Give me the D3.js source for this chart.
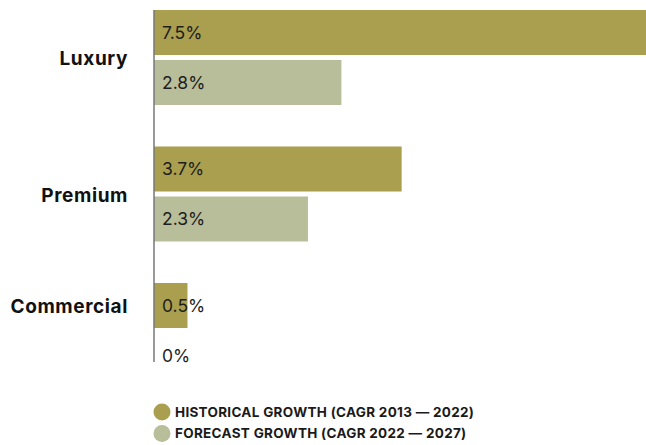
<!DOCTYPE html>
<html>
<head>
<meta charset="utf-8">
<script src="https://cdn.jsdelivr.net/npm/d3@7/dist/d3.min.js"></script>
<style>
  html, body { margin: 0; padding: 0; background: #fff; }
  svg { display: block; }
</style>
</head>
<body>
<svg id="chart" width="646" height="445"></svg>
<script>
// Growth by vehicle segment
const categories = ["Luxury", "Premium", "Commercial"];
const historical = [7.5, 3.7, 0.5];
const forecast = [2.8, 2.3, 0];
const seriesNames = ["HISTORICAL GROWTH (CAGR 2013 \u2014 2022)", "FORECAST GROWTH (CAGR 2022 \u2014 2027)"];
const seriesColors = ["#a99f4e", "#b8bd9a"];

const svg = d3.select("#chart");
const FONT = "Inter, 'Noto Sans', sans-serif";

const x = d3.scaleLinear().domain([0, 7.5]).range([154, 656]);
const y0 = d3.scaleBand().domain(categories).range([10, 378]).paddingInner(0.304).paddingOuter(0);
const y1 = d3.scaleBand().domain([0, 1]).range([0, y0.bandwidth()]).paddingInner(0.1);

const rows = categories.map((c, i) => ({ cat: c, vals: [historical[i], forecast[i]] }));

const groups = svg.append("g").selectAll("g.grp").data(rows).join("g")
  .attr("class", "grp")
  .attr("transform", d => `translate(0,${y0(d.cat)})`);

groups.selectAll("rect").data(d => d.vals.map((v, s) => ({ v, s }))).join("rect")
  .attr("x", x(0))
  .attr("y", d => y1(d.s))
  .attr("width", d => x(d.v) - x(0))
  .attr("height", y1.bandwidth())
  .attr("fill", d => seriesColors[d.s]);

groups.selectAll("text.val").data(d => d.vals.map((v, s) => ({ v, s }))).join("text")
  .attr("class", "val")
  .attr("x", x(0) + 8)
  .attr("y", d => y1(d.s) + y1.bandwidth() / 2)
  .attr("dy", "0.36em")
  .attr("font-family", FONT)
  .attr("font-size", 17.5)
  .attr("fill", "#1e1e1e")
  .text(d => d3.format(".1~f")(d.v) + "%");

// category labels: centred on the bars that carry a value
groups.append("text")
  .attr("x", 128)
  .attr("y", d => {
    const idx = d.vals.map((v, s) => v > 0 ? s : null).filter(s => s !== null);
    const top = y1(idx[0]);
    const bot = y1(idx[idx.length - 1]) + y1.bandwidth();
    return (top + bot) / 2;
  })
  .attr("dy", "0.42em")
  .attr("text-anchor", "end")
  .attr("font-family", FONT)
  .attr("font-weight", 700)
  .attr("font-size", 19)
  .attr("letter-spacing", 0.6)
  .attr("fill", "#111")
  .text(d => d.cat);

// baseline axis
svg.append("line")
  .attr("x1", x(0)).attr("x2", x(0))
  .attr("y1", 10).attr("y2", 362)
  .attr("stroke", "#777").attr("stroke-width", 1.5);

// legend
const legend = svg.append("g").attr("transform", "translate(162,412)");
const li = legend.selectAll("g").data(seriesNames).join("g")
  .attr("transform", (d, i) => `translate(0,${i * 21.5})`);
li.append("circle").attr("r", 8.5).attr("fill", (d, i) => seriesColors[i]);
li.append("text")
  .attr("x", 13).attr("dy", "0.36em")
  .attr("font-family", FONT)
  .attr("font-weight", 700)
  .attr("font-size", 13.5)
  .attr("letter-spacing", 0.3)
  .attr("fill", "#1a1a1a")
  .text(d => d);
</script>
</body>
</html>
